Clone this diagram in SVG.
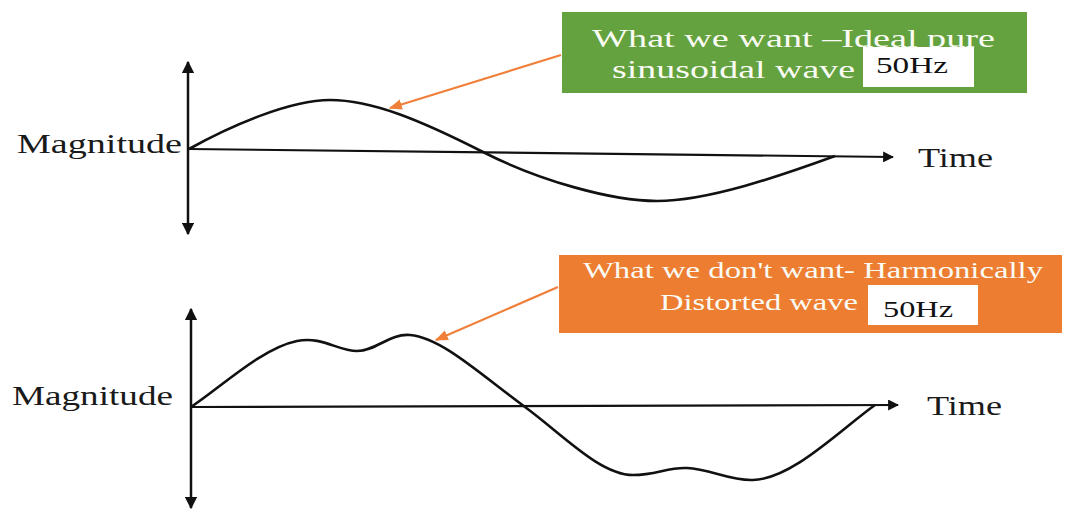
<svg xmlns="http://www.w3.org/2000/svg" width="1065" height="510" viewBox="0 0 1065 510">
  <style>
    .axis { stroke: #111; stroke-width: 2.5; fill: none; }
    .wave { stroke: #111; stroke-width: 2.6; fill: none; stroke-linejoin: round; }
    .lbl { font-family: "Liberation Serif", "Times New Roman", serif; font-size: 28px; fill: #1a1a1a; }
    .cap { font-family: "Liberation Serif", "Times New Roman", serif; fill: #fbfbf5; }
    .hz { font-family: "Liberation Serif", "Times New Roman", serif; font-size: 23px; fill: #111; }
    .lead { stroke: #f07f3a; stroke-width: 2.2; fill: none; }
  </style>
  <defs>
    <marker id="ax" viewBox="0 0 10 10" refX="9" refY="5" markerWidth="5" markerHeight="5" orient="auto-start-reverse" markerUnits="strokeWidth">
      <path d="M0,0 L10,5 L0,10 Z" fill="#111"/>
    </marker>
    <marker id="ld" viewBox="0 0 10 10" refX="9" refY="5" markerWidth="6" markerHeight="6" orient="auto" markerUnits="strokeWidth">
      <path d="M0,1 L10,5 L0,9 Z" fill="#f07f3a"/>
    </marker>
  </defs>

  <rect width="1065" height="510" fill="#ffffff"/>

  <!-- upper plot: ideal sine -->
  <g id="plot-ideal">
    <line class="axis" x1="188" y1="62" x2="188" y2="234" marker-start="url(#ax)" marker-end="url(#ax)"/>
    <line class="axis" x1="189" y1="149" x2="893" y2="157" marker-end="url(#ax)" style="stroke-width:2.2"/>
    <path class="wave" d="M189,149 C230,126 290,100 330,100 C372,100 420,120 483,152 C540,181 612,201 657,201 C708,201 780,176 835,156"/>
    <text class="lbl" x="17" y="153" textLength="165" lengthAdjust="spacingAndGlyphs">Magnitude</text>
    <text class="lbl" x="918" y="167" textLength="75" lengthAdjust="spacingAndGlyphs">Time</text>
  </g>

  <!-- lower plot: distorted wave -->
  <g id="plot-distorted">
    <line class="axis" x1="191" y1="309" x2="191" y2="508" marker-start="url(#ax)" marker-end="url(#ax)"/>
    <line class="axis" x1="191" y1="407" x2="898" y2="405" marker-end="url(#ax)" style="stroke-width:2.2"/>
    <path class="wave" d="M191,407 C220,388 262,348 297,341 C322,336 338,351 357,351 C376,351 390,333 410,335 C442,338 480,374 525,407 C562,434 600,475 633,475 C656,475 668,467 687,468 C710,469 730,481 753,480 C792,479 840,430 875,405"/>
    <text class="lbl" x="12" y="405" textLength="161" lengthAdjust="spacingAndGlyphs">Magnitude</text>
    <text class="lbl" x="927" y="415" textLength="75" lengthAdjust="spacingAndGlyphs">Time</text>
  </g>

  <!-- callout: ideal -->
  <g id="callout-ideal">
    <rect x="562" y="12" width="465" height="81" fill="#63a23e"/>
    <text class="cap" x="592" y="47" font-size="26" textLength="403" lengthAdjust="spacingAndGlyphs">What we want –Ideal pure</text>
    <text class="cap" x="612" y="78" font-size="26" textLength="243" lengthAdjust="spacingAndGlyphs">sinusoidal wave</text>
    <rect x="863" y="47" width="111" height="40" fill="#ffffff"/>
    <text class="hz" x="876" y="73" textLength="72" lengthAdjust="spacingAndGlyphs">50Hz</text>
  </g>

  <!-- callout: distorted -->
  <g id="callout-distorted">
    <rect x="559" y="255" width="503" height="78" fill="#ed7d31"/>
    <text class="cap" x="583" y="278" font-size="24" textLength="460" lengthAdjust="spacingAndGlyphs">What we don't want- Harmonically</text>
    <text class="cap" x="660" y="310" font-size="24" textLength="198" lengthAdjust="spacingAndGlyphs">Distorted wave</text>
    <rect x="868" y="285" width="110" height="40" fill="#ffffff"/>
    <text class="hz" x="883" y="317" textLength="70" lengthAdjust="spacingAndGlyphs">50Hz</text>
  </g>

  <!-- leader arrows from callouts to the waves -->
  <g id="connectors">
    <line class="lead" x1="561" y1="55" x2="390" y2="108" marker-end="url(#ld)"/>
    <line class="lead" x1="558" y1="287" x2="436" y2="340" marker-end="url(#ld)"/>
  </g>
</svg>
